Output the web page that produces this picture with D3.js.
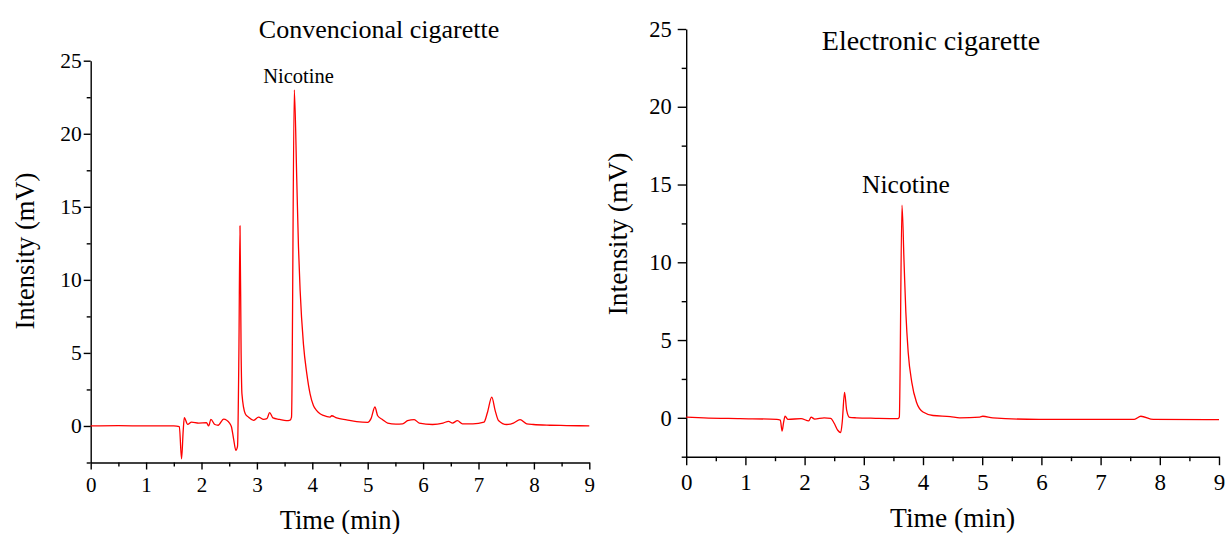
<!DOCTYPE html>
<html>
<head>
<meta charset="utf-8">
<script src="https://cdn.jsdelivr.net/npm/d3@7"></script>
<style>
	body { margin: 0; background: #fff; }
	svg { display: block; }
	.axis path, .axis line { stroke: #000; stroke-width: 1.4; }
	.axis text { fill: #000; }
</style>
</head>
<body>
<svg id="chart" width="1226" height="534"></svg>
<script>
// Chromatogram traces: time (min) and intensity (mV)
var convTime = [0, 0.5, 1.0, 1.5, 1.6, 1.64, 1.67, 1.69, 1.75, 1.82, 1.95, 2.09, 2.13, 2.17, 2.24, 2.30,
	2.40, 2.51, 2.54, 2.58, 2.62, 2.65, 2.675, 2.695, 2.715, 2.73, 2.79, 2.85, 2.94, 3.03, 3.12, 3.18,
	3.23, 3.29, 3.41, 3.53, 3.60, 3.625, 3.675, 3.72, 3.75, 3.78, 3.84, 3.90, 3.96, 4.02, 4.08, 4.14,
	4.20, 4.32, 4.35, 4.44, 4.62, 4.80, 5.0, 5.06, 5.13, 5.18, 5.27, 5.36, 5.51, 5.63, 5.72, 5.84,
	5.93, 6.17, 6.36, 6.46, 6.53, 6.62, 6.71, 6.9, 7.1, 7.16, 7.24, 7.30, 7.36, 7.51, 7.63, 7.75,
	7.87, 7.99, 8.29, 8.59, 9.0];
var convSignal = [0, 0.02, 0, 0, -0.05, -2.25, -0.3, 0.57, 0.11, 0.27, 0.2, 0.22, 0.0, 0.45, 0.1, 0.05,
	0.47, 0.17, -0.05, -0.9, -1.67, -1.4, 5, 13.7, 5, 2.2, 0.84, 0.6, 0.38, 0.6, 0.45, 0.5,
	0.91, 0.55, 0.45, 0.36, 0.4, 0.6, 23.0, 16.8, 12.3, 9.3, 5.6, 3.6, 2.2, 1.4, 1.05, 0.84,
	0.72, 0.6, 0.7, 0.55, 0.42, 0.3, 0.25, 0.5, 1.3, 0.7, 0.43, 0.2, 0.13, 0.15, 0.36, 0.43,
	0.2, 0.1, 0.2, 0.32, 0.2, 0.36, 0.15, 0.15, 0.27, 0.9, 1.98, 1.07, 0.38, 0.1, 0.2, 0.43,
	0.15, 0.1, 0.05, 0.03, 0.0];

var ecigTime = [0, 0.3, 0.91, 1.53, 1.59, 1.62, 1.645, 1.67, 1.72, 1.94, 2.07, 2.11, 2.17, 2.33, 2.44,
	2.50, 2.56, 2.61, 2.635, 2.675, 2.71, 2.76, 2.87, 3.2, 3.58, 3.60, 3.645, 3.68, 3.71, 3.75,
	3.81, 3.89, 4.0, 4.17, 4.46, 4.62, 4.96, 5.01, 5.18, 5.96, 7.57, 7.68, 7.89, 9.0];
var ecigSignal = [0.05, 0.0, -0.05, -0.1, -0.15, -0.85, -0.3, 0.1, -0.1, -0.05, -0.2, 0.04, -0.08, 0.0, -0.03,
	-0.35, -0.8, -0.95, -0.3, 1.64, 0.5, 0.03, 0.0, -0.03, -0.05, 0.05, 13.67, 10.0, 6.8, 4.2,
	2.3, 1.0, 0.37, 0.15, 0.08, 0.0, 0.05, 0.1, 0.0, -0.1, -0.1, 0.1, -0.1, -0.12];

var xTicks = [0, 1, 2, 3, 4, 5, 6, 7, 8, 9];
var yTicks = [0, 5, 10, 15, 20, 25];

var FONT = '"Liberation Serif", "Times New Roman", serif';
var svg = d3.select('#chart').style('font-family', FONT);

/*
Draw one chromatogram panel. `p` holds the pixel box of the plot area,
font sizes and the label positions.
*/
function drawPanel (p) {
	var x, y, g, line, pts;

	x = d3.scaleLinear().domain([0, 9]).range([p.left, p.right]);
	y = d3.scaleLinear().domain([-2.5, 25]).range([p.bottom, p.top]);

	g = svg.append('g');

	// minor ticks first, majors on top
	g.append('g')
		.attr('class', 'axis')
		.attr('transform', 'translate(0,' + p.bottom + ')')
		.call(d3.axisBottom(x).tickValues(d3.range(0.5, 9, 1)).tickSize(p.minor).tickFormat(''))
		.select('.domain').remove();
	g.append('g')
		.attr('class', 'axis')
		.attr('transform', 'translate(0,' + p.bottom + ')')
		.call(d3.axisBottom(x).tickValues(xTicks).tickSize(p.major).tickSizeOuter(0)
			.tickFormat(d3.format('d')))
		.selectAll('text')
		.style('font-size', p.xTickFont + 'px')
		.attr('dy', 0)
		.attr('y', p.xLabelBase);

	g.append('g')
		.attr('class', 'axis')
		.attr('transform', 'translate(' + p.left + ',0)')
		.call(d3.axisLeft(y).tickValues([-2.5, 2.5, 7.5, 12.5, 17.5, 22.5]).tickSize(p.minor).tickFormat(''))
		.select('.domain').remove();
	g.append('g')
		.attr('class', 'axis')
		.attr('transform', 'translate(' + p.left + ',0)')
		.call(d3.axisLeft(y).tickValues(yTicks).tickSize(p.major).tickSizeOuter(0)
			.tickPadding(p.yPad).tickFormat(d3.format('d')))
		.selectAll('text')
		.style('font-size', p.yTickFont + 'px');

	// d3 puts a sans-serif font on each axis group, put the serif back
	g.selectAll('.axis').attr('font-family', null).attr('font-size', null);
	g.selectAll('.axis text').style('font-family', FONT);

	pts = d3.zip(p.time, p.signal);
	line = d3.line()
		.x(function (d) { return x(d[0]); })
		.y(function (d) { return y(d[1]); })
		.curve(d3.curveMonotoneX);

	g.append('path')
		.datum(pts)
		.attr('fill', 'none')
		.attr('stroke', '#ff0000')
		.attr('stroke-width', 1.3)
		.attr('stroke-linejoin', 'round')
		.attr('d', line);

	g.append('text')
		.attr('x', p.title.x).attr('y', p.title.y)
		.attr('text-anchor', 'middle')
		.attr('font-size', p.title.size)
		.text(p.title.text);

	g.append('text')
		.attr('x', p.peak.x).attr('y', p.peak.y)
		.attr('text-anchor', 'middle')
		.attr('font-size', p.peak.size)
		.text('Nicotine');

	g.append('text')
		.attr('x', (p.left + p.right) / 2).attr('y', p.xTitleY)
		.attr('text-anchor', 'middle')
		.attr('font-size', p.axisFont)
		.text('Time (min)');

	g.append('text')
		.attr('transform', 'translate(' + p.yTitleX + ',' + p.yTitleY + ') rotate(-90)')
		.attr('text-anchor', 'middle')
		.attr('font-size', p.axisFont)
		.text('Intensity (mV)');
}

drawPanel({
	left: 90.7, right: 589.3, top: 60.7, bottom: 462.5,
	major: 7, minor: 4, yPad: 2,
	xTickFont: 21, yTickFont: 21.5, xLabelBase: 29.5,
	time: convTime, signal: convSignal,
	title: { text: 'Convencional cigarette', x: 379, y: 38, size: 26 },
	peak: { x: 298.5, y: 83, size: 20.5 },
	axisFont: 26.5, xTitleY: 529, yTitleX: 34, yTitleY: 251
});

drawPanel({
	left: 686.2, right: 1219, top: 29, bottom: 456.7,
	major: 8.5, minor: 4.5, yPad: 6,
	xTickFont: 23, yTickFont: 22.5, xLabelBase: 33,
	time: ecigTime, signal: ecigSignal,
	title: { text: 'Electronic cigarette', x: 931, y: 50, size: 28 },
	peak: { x: 906, y: 192.5, size: 25.5 },
	axisFont: 27.5, xTitleY: 527, yTitleX: 627, yTitleY: 234
});
</script>
</body>
</html>
